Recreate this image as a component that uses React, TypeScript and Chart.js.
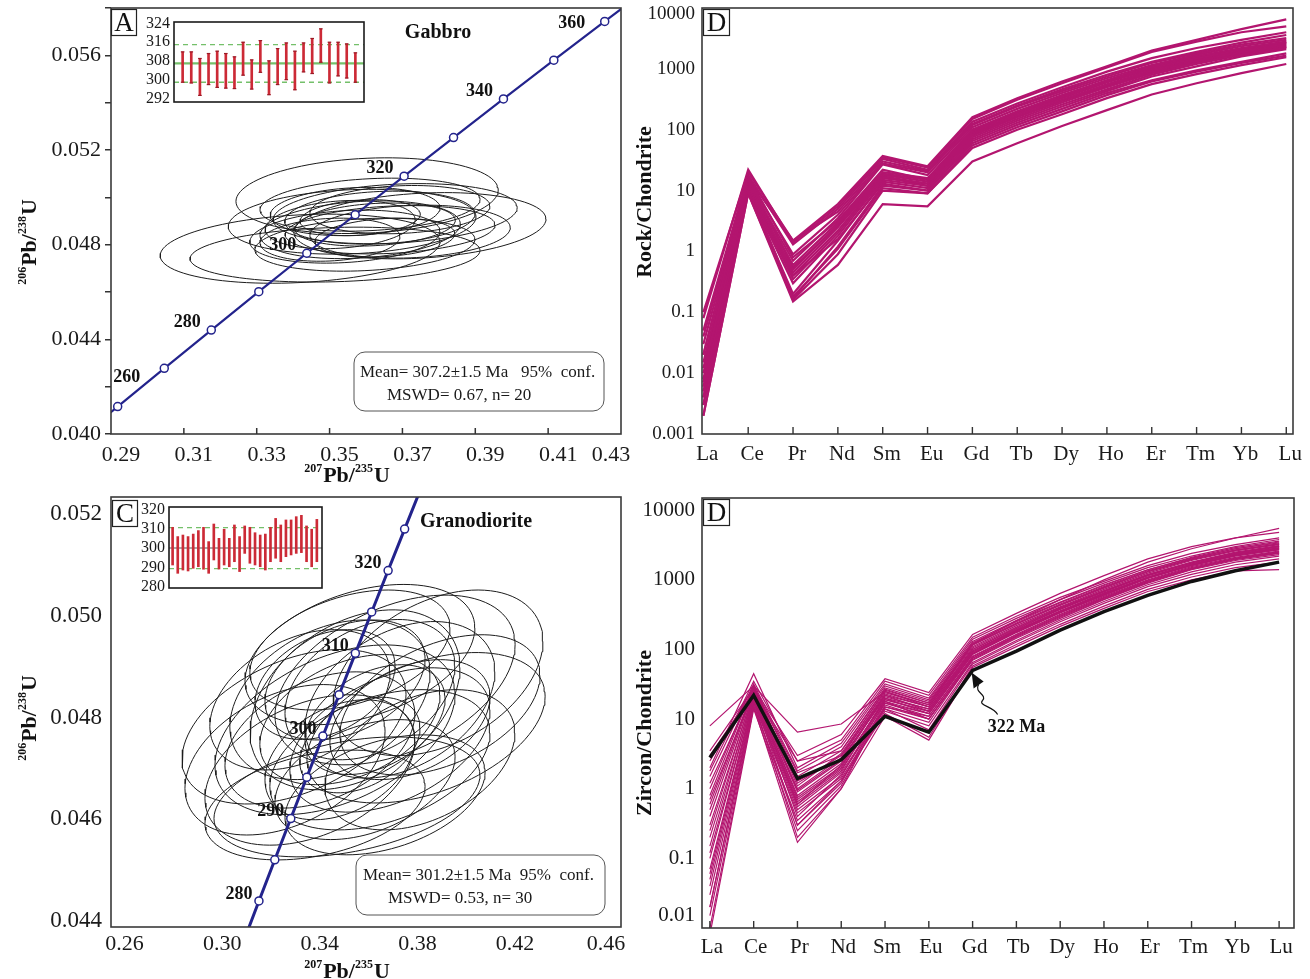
import React, { useEffect, useRef } from 'react';
import { Chart, registerables } from 'chart.js';

Chart.register(...registerables);

const SERIF = "'Liberation Serif', 'Times New Roman', Times, serif";
const NAVY = '#23238c';
const MAGENTA = '#b3156f';
const RED = '#cc2a36';
const GREEN = '#74c06a';
const FRAME = '#3a3a3a';

// ---------------- Panel A (Gabbro) ----------------
const concAgesA = [250, 260, 270, 280, 290, 300, 310, 320, 330, 340, 350, 360, 370];
const concA_207 = [0.27917, 0.29183, 0.30462, 0.31753, 0.33057, 0.34374, 0.35703, 0.37046, 0.38403, 0.39773, 0.41156, 0.42553, 0.43964];
const concA_206 = [0.039543, 0.041157, 0.042773, 0.044392, 0.046014, 0.047637, 0.049264, 0.050893, 0.052524, 0.054158, 0.055795, 0.057433, 0.059075];
const concLabelsA = [260, 280, 300, 320, 340, 360];
const ellA_x = [0.3603, 0.3419, 0.3515, 0.3748, 0.3680, 0.3562, 0.3611, 0.3584, 0.3638, 0.3542, 0.3666, 0.3570, 0.3625, 0.3529, 0.3693, 0.3597, 0.3501, 0.3652, 0.3584, 0.3721];
const ellA_y = [0.05007, 0.04783, 0.04758, 0.04880, 0.04931, 0.04897, 0.04969, 0.04863, 0.04914, 0.04834, 0.04863, 0.04940, 0.04885, 0.04885, 0.04948, 0.04800, 0.04821, 0.04830, 0.04914, 0.04855];
const ellA_sx = [0.0360, 0.0384, 0.0398, 0.0346, 0.0335, 0.0340, 0.0302, 0.0275, 0.0261, 0.0261, 0.0288, 0.0233, 0.0220, 0.0206, 0.0247, 0.0302, 0.0192, 0.0192, 0.0165, 0.0275];
const ellA_sy = [0.00160, 0.00146, 0.00116, 0.00140, 0.00127, 0.00137, 0.00112, 0.00122, 0.00112, 0.00112, 0.00102, 0.00102, 0.00091, 0.00102, 0.00102, 0.00112, 0.00091, 0.00082, 0.00076, 0.00112];
const ellA_rho = [0.15, 0.20, 0.15, 0.20, 0.20, 0.15, 0.20, 0.20, 0.15, 0.20, 0.20, 0.15, 0.20, 0.20, 0.15, 0.20, 0.15, 0.20, 0.20, 0.15];
const xTicksA = [0.29, 0.31, 0.33, 0.35, 0.37, 0.39, 0.41, 0.43];
const statsA = ['Mean= 307.2\u00b11.5 Ma   95%  conf.', 'MSWD= 0.67, n= 20'];

// inset A (weighted mean plot)
const insetA_lo = [299.0, 298.7, 293.4, 298.0, 296.8, 296.5, 296.3, 302.0, 296.1, 303.2, 293.7, 298.0, 300.1, 295.8, 303.4, 302.7, 307.5, 298.7, 301.7, 300.8, 299.0];
const insetA_hi = [311.9, 311.9, 309.1, 311.2, 312.2, 311.2, 309.8, 316.0, 308.5, 316.7, 308.1, 313.3, 315.7, 312.2, 315.7, 317.6, 321.7, 316.0, 316.0, 315.3, 311.5];
const insetA_mean = 307.0;
const insetA_band = [299.0, 315.0];
const insetA_ticks = [292, 300, 308, 316, 324];

// ---------------- Panel C (Granodiorite) ----------------
const concAgesC = [275, 280, 285, 290, 295, 300, 305, 310, 315, 320, 325, 330];
const concC_207 = [0.31106, 0.31753, 0.32403, 0.33057, 0.33714, 0.34374, 0.35037, 0.35703, 0.36373, 0.37046, 0.37723, 0.38403];
const concC_206 = [0.043573, 0.044392, 0.045202, 0.046014, 0.046825, 0.047637, 0.048450, 0.049264, 0.050078, 0.050893, 0.051708, 0.052524];
const concLabelsC = [280, 290, 300, 310, 320];
const ellC_x = [0.3909, 0.3319, 0.3536, 0.3860, 0.3589, 0.3466, 0.3671, 0.3384, 0.3753, 0.3548, 0.3630, 0.3425, 0.3712, 0.3528, 0.3610, 0.3343, 0.3835, 0.3507, 0.3651, 0.3487, 0.3733, 0.3569, 0.3282, 0.3794, 0.3589, 0.3446, 0.3692, 0.3405, 0.3917, 0.3548];
const ellC_y = [0.04888, 0.04782, 0.04644, 0.04780, 0.04924, 0.04835, 0.04717, 0.04697, 0.04835, 0.04796, 0.04855, 0.04756, 0.04756, 0.04874, 0.04678, 0.04835, 0.04717, 0.04717, 0.04796, 0.04776, 0.04874, 0.04835, 0.04717, 0.04796, 0.04746, 0.04865, 0.04648, 0.04628, 0.04825, 0.04933];
const ellC_sx = [0.0430, 0.0459, 0.0545, 0.0488, 0.0471, 0.0410, 0.0451, 0.0430, 0.0389, 0.0369, 0.0348, 0.0389, 0.0410, 0.0328, 0.0369, 0.0369, 0.0389, 0.0307, 0.0287, 0.0492, 0.0492, 0.0430, 0.0410, 0.0328, 0.0246, 0.0287, 0.0410, 0.0451, 0.0410, 0.0410];
const ellC_sy = [0.00163, 0.00152, 0.00118, 0.00148, 0.00138, 0.00157, 0.00138, 0.00148, 0.00154, 0.00128, 0.00138, 0.00134, 0.00142, 0.00118, 0.00118, 0.00138, 0.00138, 0.00118, 0.00108, 0.00167, 0.00167, 0.00177, 0.00148, 0.00118, 0.00094, 0.00108, 0.00118, 0.00108, 0.00138, 0.00118];
const ellC_rho = [0.38, 0.42, 0.36, 0.42, 0.38, 0.34, 0.38, 0.38, 0.36, 0.38, 0.34, 0.38, 0.42, 0.36, 0.38, 0.38, 0.38, 0.34, 0.38, 0.42, 0.42, 0.36, 0.38, 0.38, 0.36, 0.34, 0.38, 0.34, 0.42, 0.38];
const xTicksC = [0.26, 0.30, 0.34, 0.38, 0.42, 0.46];
const statsC = ['Mean= 301.2\u00b11.5 Ma  95%  conf.', 'MSWD= 0.53, n= 30'];

// inset C
const insetC_lo = [291.2, 286.9, 288.6, 288.1, 289.5, 290.3, 289.0, 286.9, 293.8, 289.1, 291.2, 290.3, 292.9, 287.8, 297.2, 292.1, 291.2, 290.3, 288.6, 292.9, 294.7, 292.9, 295.5, 296.4, 297.2, 297.6, 292.9, 290.3, 292.9];
const insetC_hi = [310.7, 305.9, 306.7, 305.9, 307.2, 309.0, 310.7, 303.3, 312.4, 305.0, 309.7, 305.0, 311.9, 305.9, 311.4, 310.7, 307.9, 306.7, 307.2, 310.7, 315.3, 311.9, 314.5, 314.5, 316.2, 316.9, 311.4, 309.7, 314.8];
const insetC_mean = 300.0;
const insetC_band = [289.3, 310.5];
const insetC_ticks = [280, 290, 300, 310, 320];

// ---------------- REE panels ----------------
const REE = ['La', 'Ce', 'Pr', 'Nd', 'Sm', 'Eu', 'Gd', 'Tb', 'Dy', 'Ho', 'Er', 'Tm', 'Yb', 'Lu'];
const reeTicksTop = [0.001, 0.01, 0.1, 1, 10, 100, 1000, 10000];
const reeTicksBottom = [0.01, 0.1, 1, 10, 100, 1000, 10000];

const rockLines = [
  [0.10, 20, 1.5, 6.0, 37, 25, 160, 330, 620, 1100, 2000, 3000, 4500, 6500],
  [0.08, 22, 1.4, 5.5, 35, 24, 150, 310, 580, 1050, 1900, 2800, 4000, 5000],
  [0.05, 18, 1.3, 5.0, 33, 22, 135, 270, 500, 900, 1500, 2200, 3000, 4000],
  [0.04, 16, 1.5, 4.5, 30, 21, 125, 250, 460, 800, 1300, 1900, 2700, 3600],
  [0.03, 15, 0.9, 4.0, 28, 20, 120, 240, 430, 750, 1250, 1800, 2500, 3200],
  [0.02, 14, 0.7, 3.5, 27, 18, 110, 220, 400, 700, 1150, 1700, 2350, 3000],
  [0.015, 13, 0.6, 3.0, 20, 16, 100, 200, 370, 650, 1100, 1600, 2200, 2800],
  [0.01, 12, 0.5, 2.8, 19, 15, 95, 190, 350, 620, 1050, 1500, 2100, 2700],
  [0.008, 12, 0.45, 2.5, 18, 14, 90, 180, 330, 600, 1000, 1450, 2000, 2600],
  [0.006, 11, 0.4, 2.2, 17, 13, 85, 170, 310, 560, 950, 1400, 1900, 2500],
  [0.005, 11, 0.35, 2.0, 16, 13, 80, 160, 300, 540, 900, 1350, 1850, 2400],
  [0.004, 10, 0.3, 1.8, 15, 12, 75, 150, 280, 500, 850, 1250, 1750, 2300],
  [0.003, 10, 0.2, 1.5, 14, 11, 70, 140, 260, 460, 800, 1200, 1700, 2200],
  [0.002, 9, 0.17, 1.2, 12, 10, 65, 130, 240, 430, 750, 1100, 1600, 2100],
  [0.02, 17, 0.8, 3.2, 22, 15, 100, 195, 360, 640, 1080, 1550, 2150, 2750],
  [0.012, 15, 0.55, 2.6, 17, 12, 85, 165, 300, 520, 880, 1300, 1800, 2300],
  [0.007, 12, 0.4, 1.6, 13, 10, 60, 120, 220, 400, 650, 950, 1300, 1800],
  [0.004, 11, 0.18, 1.1, 11, 9, 55, 110, 200, 370, 620, 900, 1250, 1650],
  [0.003, 10, 0.16, 0.9, 10, 9, 50, 100, 180, 330, 560, 820, 1150, 1550],
  [0.002, 9, 0.15, 0.6, 6, 5.5, 30, 60, 115, 210, 380, 580, 850, 1200],
];

const zircon322Ma = [2.8, 22, 1.4, 2.6, 11, 6.5, 50, 95, 190, 350, 600, 950, 1350, 1800];
const zirconLines = [
  [8, 30, 6.5, 8.5, 25, 15, 120, 260, 520, 1000, 1800, 2800, 4000, 5500],
  [3.5, 28, 3.0, 6.0, 38, 24, 165, 330, 640, 1150, 2000, 3000, 4000, 4800],
  [3.0, 25, 2.5, 5.0, 35, 22, 150, 300, 560, 950, 1600, 2400, 3200, 4000],
  [2.0, 45, 2.0, 4.5, 32, 20, 140, 280, 520, 900, 1500, 2200, 3000, 3800],
  [1.5, 32, 1.8, 4.0, 30, 19, 130, 260, 480, 850, 1400, 2100, 2900, 3600],
  [1.0, 30, 1.5, 3.5, 28, 18, 120, 240, 450, 800, 1350, 2000, 2800, 3400],
  [0.6, 28, 1.2, 3.0, 26, 17, 115, 230, 430, 760, 1300, 1950, 2700, 3300],
  [0.4, 26, 1.0, 2.8, 24, 16, 110, 220, 410, 730, 1250, 1900, 2600, 3200],
  [0.25, 25, 0.9, 2.5, 23, 15, 105, 210, 400, 700, 1200, 1800, 2500, 3100],
  [0.15, 24, 0.8, 2.3, 22, 15, 100, 200, 380, 680, 1150, 1750, 2400, 3000],
  [0.1, 22, 0.7, 2.0, 20, 14, 95, 190, 360, 650, 1100, 1700, 2350, 2900],
  [0.06, 20, 0.6, 1.8, 19, 13, 90, 185, 350, 630, 1080, 1650, 2300, 2800],
  [0.04, 18, 0.5, 1.5, 18, 12, 85, 175, 335, 600, 1050, 1600, 2200, 2700],
  [0.02, 16, 0.3, 1.2, 17, 11, 80, 165, 320, 580, 1000, 1550, 2100, 2600],
  [0.01, 15, 0.17, 1.0, 16, 10, 75, 155, 300, 550, 950, 1450, 2000, 2500],
  [0.008, 14, 0.25, 1.1, 15, 10, 70, 145, 280, 520, 900, 1400, 1900, 2300],
  [1.8, 35, 2.5, 3.5, 27, 17, 125, 250, 470, 830, 1400, 2050, 2800, 3500],
  [0.8, 30, 1.1, 3.2, 25, 16, 118, 235, 440, 780, 1320, 1950, 2650, 3300],
  [0.5, 27, 0.95, 2.6, 21, 14, 100, 205, 390, 690, 1180, 1780, 2450, 3050],
  [0.3, 24, 0.75, 2.1, 19, 13, 92, 188, 355, 640, 1100, 1680, 2300, 2850],
  [0.12, 21, 0.65, 1.9, 17, 12, 86, 178, 340, 610, 1060, 1620, 2250, 2750],
  [0.05, 19, 0.55, 1.7, 15, 11, 78, 160, 310, 560, 980, 1500, 2050, 2550],
  [0.03, 17, 0.45, 1.4, 14, 9, 72, 150, 290, 530, 920, 1420, 1950, 2400],
  [0.015, 15, 0.35, 1.3, 13, 8, 65, 135, 265, 490, 850, 1300, 1800, 2200],
  [2.5, 29, 1.7, 3.0, 22, 13, 95, 195, 375, 670, 1150, 1750, 2400, 3000],
  [1.2, 27, 1.3, 2.7, 20, 12, 88, 180, 345, 620, 1070, 1650, 2250, 2800],
  [0.7, 25, 0.6, 2.2, 18, 10, 75, 155, 300, 545, 950, 1450, 2000, 2450],
  [0.2, 22, 0.4, 1.6, 14, 7, 62, 128, 250, 460, 800, 1200, 1650, 2000],
  [0.07, 20, 0.3, 1.3, 12, 5.5, 58, 118, 230, 420, 730, 1100, 1500, 1800],
  [0.02, 18, 0.2, 1.0, 11, 5, 55, 110, 215, 390, 680, 1000, 1350, 1400],
];

// ---------------- helpers ----------------
type Pt = { x: number; y: number };

function ellipse(cx: number, cy: number, sx: number, sy: number, rho: number): Pt[] {
  const k = Math.sqrt(1 - rho * rho);
  const pts: Pt[] = [];
  for (let i = 0; i <= 96; i++) {
    const t = (i / 96) * Math.PI * 2;
    pts.push({ x: cx + sx * Math.cos(t), y: cy + sy * (rho * Math.cos(t) + k * Math.sin(t)) });
  }
  return pts;
}

function fixBox(size: { width?: number; height?: number }) {
  return (s: any) => {
    if (size.width !== undefined) s.width = size.width;
    if (size.height !== undefined) s.height = size.height;
    s.paddingLeft = 0;
    s.paddingRight = 0;
    s.paddingTop = 0;
    s.paddingBottom = 0;
  };
}

function supText(ctx: CanvasRenderingContext2D, parts: Array<[string, boolean]>, x: number, y: number, rotate: boolean, big: number, small: number) {
  ctx.save();
  ctx.translate(x, y);
  if (rotate) ctx.rotate(-Math.PI / 2);
  const fb = `bold ${big}px ${SERIF}`;
  const fs = `bold ${small}px ${SERIF}`;
  let total = 0;
  for (const [t, sup] of parts) {
    ctx.font = sup ? fs : fb;
    total += ctx.measureText(t).width + (sup ? 1 : 0);
  }
  let cx = -total / 2;
  ctx.fillStyle = '#111';
  ctx.textAlign = 'left';
  ctx.textBaseline = 'alphabetic';
  for (const [t, sup] of parts) {
    ctx.font = sup ? fs : fb;
    ctx.fillText(t, cx, sup ? big * 0.35 - big * 0.42 : big * 0.35);
    cx += ctx.measureText(t).width + (sup ? 1 : 0);
  }
  ctx.restore();
}

function letterBox(ctx: CanvasRenderingContext2D, x: number, y: number, w: number, h: number, letter: string, size: number) {
  ctx.save();
  ctx.fillStyle = '#fff';
  ctx.fillRect(x, y, w, h);
  ctx.strokeStyle = '#222';
  ctx.lineWidth = 1.2;
  ctx.strokeRect(x + 0.5, y + 0.5, w, h);
  ctx.fillStyle = '#111';
  ctx.font = `${size}px ${SERIF}`;
  ctx.textAlign = 'center';
  ctx.textBaseline = 'middle';
  ctx.fillText(letter, x + w / 2 + 0.5, y + h / 2 + 1.5);
  ctx.restore();
}

function drawFrame(ctx: CanvasRenderingContext2D, ca: any) {
  ctx.save();
  ctx.strokeStyle = FRAME;
  ctx.lineWidth = 1.6;
  ctx.strokeRect(ca.left, ca.top, ca.right - ca.left, ca.bottom - ca.top);
  ctx.restore();
}

// ---------------- chart builders ----------------
function makeConcordia(canvas: HTMLCanvasElement, o: any) {
  const W = canvas.width;
  const H = canvas.height;
  const ds: any[] = [];
  ds.push({
    data: o.ages.map((_: number, i: number) => ({ x: o.x207[i], y: o.y206[i] })),
    showLine: true,
    borderColor: NAVY,
    borderWidth: o.lw,
    pointRadius: 4,
    pointBackgroundColor: '#fff',
    pointBorderColor: NAVY,
    pointBorderWidth: 1.5,
    clip: 0,
    tension: 0,
  });
  for (let i = 0; i < o.ex.length; i++) {
    ds.push({
      data: ellipse(o.ex[i], o.ey[i], o.esx[i], o.esy[i], o.erho[i]),
      showLine: true,
      borderColor: '#1c1c1c',
      borderWidth: 1,
      pointRadius: 0,
      clip: 0,
      tension: 0,
    });
  }
  return new Chart(canvas, {
    type: 'scatter',
    data: { datasets: ds },
    options: {
      animation: false,
      responsive: false,
      devicePixelRatio: 1,
      events: [],
      layout: { padding: { left: 0, top: o.area.top, right: W - o.area.right, bottom: 0 } },
      plugins: { legend: { display: false }, tooltip: { enabled: false } },
      scales: {
        x: {
          type: 'linear', min: o.xMin, max: o.xMax,
          grid: { display: false, drawTicks: false }, border: { display: false },
          ticks: { display: false },
          afterFit: fixBox({ height: H - o.area.bottom }),
        },
        y: {
          type: 'linear', min: o.yMin, max: o.yMax,
          grid: { display: o.yTicks, drawOnChartArea: false, drawTicks: o.yTicks, tickLength: 6, color: '#333', lineWidth: 1.5 },
          border: { display: false },
          ticks: {
            stepSize: 0.002, includeBounds: false, autoSkip: false, padding: o.yPad, color: '#1a1a1a',
            font: { family: SERIF, size: o.yFont },
            callback: (v: number) => (Math.round(v * 1000) % o.yLabelEvery === 0 ? v.toFixed(3) : ''),
          },
          afterFit: fixBox({ width: o.area.left }),
        },
      },
    } as any,
    plugins: [{
      id: 'deco',
      afterDraw: (chart: any) => {
        const ctx: CanvasRenderingContext2D = chart.ctx;
        const ca = chart.chartArea;
        const xs = chart.scales.x;
        const ys = chart.scales.y;
        drawFrame(ctx, ca);
        ctx.save();
        if (o.xInTicks) {
          ctx.strokeStyle = '#333';
          ctx.lineWidth = 1.5;
          for (const v of o.xTicks) {
            const px = xs.getPixelForValue(v);
            if (px <= ca.left + 3 || px >= ca.right - 3) continue;
            ctx.beginPath();
            ctx.moveTo(px, ca.bottom);
            ctx.lineTo(px, ca.bottom - 6);
            ctx.stroke();
          }
        }
        ctx.fillStyle = '#1a1a1a';
        ctx.font = `${o.xFont}px ${SERIF}`;
        ctx.textAlign = 'center';
        ctx.textBaseline = 'middle';
        for (const v of o.xTicks) {
          let px = xs.getPixelForValue(v) + o.xLabOff;
          px = Math.min(px, ca.right - o.xLabClamp);
          ctx.fillText(v.toFixed(2), px, o.xLabY);
        }
        supText(ctx, [['207', true], ['Pb/', false], ['235', true], ['U', false]], o.xTitleX, o.xTitleY, false, 22, 12);
        supText(ctx, [['206', true], ['Pb/', false], ['238', true], ['U', false]], 28, o.yTitleY, true, 22, 12);
        ctx.fillStyle = '#111';
        ctx.font = `bold 18px ${SERIF}`;
        for (const a of o.labelAges) {
          const i = o.ages.indexOf(a);
          const px = xs.getPixelForValue(o.x207[i]);
          const py = ys.getPixelForValue(o.y206[i]);
          const off = o.labOff[a] || o.labOffDefault;
          ctx.fillText(String(a), px + off[0], py + off[1]);
        }
        ctx.font = `bold 20px ${SERIF}`;
        ctx.fillText(o.title, o.titlePos[0], o.titlePos[1]);
        const [bx, by, bw, bh] = o.box;
        ctx.beginPath();
        (ctx as any).roundRect(bx, by, bw, bh, 11);
        ctx.fillStyle = '#fff';
        ctx.fill();
        ctx.strokeStyle = '#555';
        ctx.lineWidth = 1;
        ctx.stroke();
        ctx.fillStyle = '#1a1a1a';
        ctx.font = `17px ${SERIF}`;
        ctx.textAlign = 'left';
        ctx.fillText(o.stats[0], bx + o.statsX[0], by + 21);
        ctx.fillText(o.stats[1], bx + o.statsX[1], by + 44);
        ctx.restore();
        letterBox(ctx, o.letterPos[0], o.letterPos[1], 25, 26, o.letter, 27);
      },
    }],
  });
}

function makeInset(canvas: HTMLCanvasElement, o: any) {
  const W = canvas.width;
  const H = canvas.height;
  const hline = (y: number) => [{ x: o.xMin, y }, { x: o.xMax, y }];
  return new Chart(canvas, {
    type: 'bar',
    data: {
      datasets: [
        { type: 'bar', data: o.lo.map((lo: number, i: number) => ({ x: i + 1, y: [lo, o.hi[i]] })), backgroundColor: RED, barThickness: 2, borderWidth: 0 },
        { type: 'line', data: hline(o.mean), borderColor: o.meanColor, borderWidth: o.meanW, pointRadius: 0 },
        { type: 'line', data: hline(o.band[0]), borderColor: GREEN, borderWidth: 1.3, borderDash: [5, 4], pointRadius: 0 },
        { type: 'line', data: hline(o.band[1]), borderColor: GREEN, borderWidth: 1.3, borderDash: [5, 4], pointRadius: 0 },
      ],
    },
    options: {
      animation: false,
      responsive: false,
      devicePixelRatio: 1,
      events: [],
      layout: { padding: { left: 0, top: o.area.top, right: W - o.area.right, bottom: 0 } },
      plugins: { legend: { display: false }, tooltip: { enabled: false } },
      scales: {
        x: {
          type: 'linear', min: o.xMin, max: o.xMax, offset: false,
          grid: { display: false, drawTicks: false, offset: false }, border: { display: false },
          ticks: { display: false },
          afterFit: fixBox({ height: H - o.area.bottom }),
        },
        y: {
          type: 'linear', min: o.yMin, max: o.yMax,
          grid: { display: false, drawTicks: false }, border: { display: false },
          afterBuildTicks: (s: any) => { s.ticks = o.yTicks.map((v: number) => ({ value: v })); },
          ticks: { padding: 4, autoSkip: false, color: '#1a1a1a', font: { family: SERIF, size: 16 } },
          afterFit: fixBox({ width: o.area.left }),
        },
      },
    } as any,
    plugins: [{
      id: 'insetDeco',
      beforeDraw: (chart: any) => {
        const ca = chart.chartArea;
        const ctx = chart.ctx;
        ctx.save();
        ctx.fillStyle = '#fff';
        ctx.fillRect(ca.left, ca.top, ca.right - ca.left, ca.bottom - ca.top);
        ctx.restore();
      },
      afterDraw: (chart: any) => {
        const ca = chart.chartArea;
        const ctx: CanvasRenderingContext2D = chart.ctx;
        const xs = chart.scales.x;
        const ys = chart.scales.y;
        ctx.save();
        if (o.caps) {
          ctx.strokeStyle = '#9a1a26';
          ctx.lineWidth = 1.2;
          o.lo.forEach((lo: number, i: number) => {
            const px = xs.getPixelForValue(i + 1);
            for (const v of [lo, o.hi[i]]) {
              const py = ys.getPixelForValue(v);
              ctx.beginPath();
              ctx.moveTo(px - 1.8, py);
              ctx.lineTo(px + 1.8, py);
              ctx.stroke();
            }
          });
        }
        ctx.strokeStyle = '#1a1a1a';
        ctx.lineWidth = 1.6;
        ctx.strokeRect(ca.left, ca.top, ca.right - ca.left, ca.bottom - ca.top);
        ctx.restore();
      },
    }],
  });
}

function makeREE(canvas: HTMLCanvasElement, o: any) {
  const W = canvas.width;
  const H = canvas.height;
  const ds: any[] = o.series.map((s: any) => ({
    data: s.values.map((v: number, i: number) => ({ x: i, y: v })),
    showLine: true,
    borderColor: s.color,
    borderWidth: s.width,
    pointRadius: 0,
    tension: 0,
    clip: 0,
  }));
  return new Chart(canvas, {
    type: 'scatter',
    data: { datasets: ds },
    options: {
      animation: false,
      responsive: false,
      devicePixelRatio: 1,
      events: [],
      layout: { padding: { left: 0, top: o.area.top, right: W - o.area.right, bottom: 0 } },
      plugins: { legend: { display: false }, tooltip: { enabled: false } },
      scales: {
        x: {
          type: 'linear', min: o.xMin, max: o.xMax,
          grid: { display: false, drawTicks: false }, border: { display: false },
          afterBuildTicks: (s: any) => { s.ticks = REE.map((_, i) => ({ value: i })); },
          ticks: {
            autoSkip: false, maxRotation: 0, padding: o.xPad, labelOffset: o.xLabOff, color: '#1a1a1a',
            font: { family: SERIF, size: 21 },
            callback: (v: number) => REE[Math.round(v)] ?? '',
          },
          afterFit: fixBox({ height: H - o.area.bottom }),
        },
        y: {
          type: 'logarithmic', min: o.yMin, max: o.yMax,
          grid: { display: false, drawTicks: false }, border: { display: false },
          afterBuildTicks: (s: any) => { s.ticks = o.yTicks.map((v: number) => ({ value: v })); },
          ticks: {
            autoSkip: false, padding: 7, color: '#1a1a1a',
            font: { family: SERIF, size: o.yFont },
            callback: (v: number) => (v === o.nudge.value ? '' : String(v)),
          },
          afterFit: fixBox({ width: o.area.left }),
        },
      },
    } as any,
    plugins: [{
      id: 'reeDeco',
      afterDraw: (chart: any) => {
        const ctx: CanvasRenderingContext2D = chart.ctx;
        const ca = chart.chartArea;
        const xs = chart.scales.x;
        const ys = chart.scales.y;
        drawFrame(ctx, ca);
        ctx.save();
        // nudged y tick label (edge label kept inside, as in the source figure)
        ctx.fillStyle = '#1a1a1a';
        ctx.font = `${o.yFont}px ${SERIF}`;
        ctx.textAlign = 'right';
        ctx.textBaseline = 'middle';
        ctx.fillText(String(o.nudge.value), ca.left - 7, ys.getPixelForValue(o.nudge.value) + o.nudge.dy);
        ctx.strokeStyle = '#333';
        ctx.lineWidth = 1.4;
        REE.forEach((_, i) => {
          const px = xs.getPixelForValue(i);
          if (px <= ca.left + 3 || px >= ca.right - 3) return;
          ctx.beginPath();
          ctx.moveTo(px, ca.bottom);
          ctx.lineTo(px, ca.bottom - 7);
          ctx.stroke();
        });
        ctx.fillStyle = '#111';
        ctx.font = `bold 22px ${SERIF}`;
        ctx.textAlign = 'center';
        ctx.textBaseline = 'middle';
        ctx.translate(o.yTitleX, o.yTitleY);
        ctx.rotate(-Math.PI / 2);
        ctx.fillText(o.yTitle, 0, 0);
        ctx.restore();
        if (o.annot) {
          const tx = xs.getPixelForValue(6);
          const ty = ys.getPixelForValue(o.annot[6]);
          const tip = { x: tx - 1, y: ty + 2 };
          ctx.save();
          ctx.fillStyle = '#111';
          ctx.beginPath();
          ctx.moveTo(tip.x, tip.y);
          ctx.lineTo(tip.x + 2, tip.y + 16);
          ctx.lineTo(tip.x + 12, tip.y + 9);
          ctx.closePath();
          ctx.fill();
          ctx.strokeStyle = '#111';
          ctx.lineWidth = 1.2;
          ctx.beginPath();
          ctx.moveTo(tip.x + 7, tip.y + 12);
          ctx.bezierCurveTo(tip.x + 2, tip.y + 20, tip.x + 16, tip.y + 22, tip.x + 11, tip.y + 28);
          ctx.bezierCurveTo(tip.x + 6, tip.y + 33, tip.x + 22, tip.y + 34, tip.x + 26, tip.y + 42);
          ctx.stroke();
          ctx.font = `bold 18px ${SERIF}`;
          ctx.textAlign = 'center';
          ctx.textBaseline = 'middle';
          ctx.fillText('322 Ma', tx + 44, ty + 57);
          ctx.restore();
        }
        letterBox(ctx, o.letterPos[0], o.letterPos[1], 26, 26, 'D', 27);
      },
    }],
  });
}

const BOXES = {
  A: { left: 0, top: 0, w: 640, h: 485 },
  C: { left: 0, top: 490, w: 640, h: 489 },
  D1: { left: 630, top: 0, w: 680, h: 485 },
  D2: { left: 630, top: 490, w: 680, h: 489 },
  iA: { left: 130, top: 12, w: 240, h: 96 },
  iC: { left: 126, top: 500, w: 200, h: 92 },
};

export default function App() {
  const rA = useRef<HTMLCanvasElement>(null);
  const rC = useRef<HTMLCanvasElement>(null);
  const rD1 = useRef<HTMLCanvasElement>(null);
  const rD2 = useRef<HTMLCanvasElement>(null);
  const riA = useRef<HTMLCanvasElement>(null);
  const riC = useRef<HTMLCanvasElement>(null);

  useEffect(() => {
    const charts: Chart[] = [];
    charts.push(makeConcordia(rA.current!, {
      area: { left: 111, top: 8, right: 621, bottom: 434 },
      xMin: 0.29, xMax: 0.43, yMin: 0.040, yMax: 0.058,
      ages: concAgesA, x207: concA_207, y206: concA_206, labelAges: concLabelsA,
      ex: ellA_x, ey: ellA_y, esx: ellA_sx, esy: ellA_sy, erho: ellA_rho,
      lw: 2.2, yTicks: true, yPad: 4, yFont: 22, yLabelEvery: 4,
      xTicks: xTicksA, xInTicks: true, xFont: 22, xLabOff: 10, xLabClamp: 10, xLabY: 455,
      xTitleX: 347, xTitleY: 474, yTitleY: 242,
      labOff: { 260: [9, -29], 360: [-33, 2] }, labOffDefault: [-24, -8],
      title: 'Gabbro', titlePos: [438, 33],
      box: [354, 352, 250, 59], stats: statsA, statsX: [6, 33],
      letter: 'A', letterPos: [111, 9],
    }));
    charts.push(makeConcordia(rC.current!, {
      area: { left: 111, top: 7, right: 621, bottom: 437 },
      xMin: 0.2569, xMax: 0.4659, yMin: 0.04388, yMax: 0.05234,
      ages: concAgesC, x207: concC_207, y206: concC_206, labelAges: concLabelsC,
      ex: ellC_x, ey: ellC_y, esx: ellC_sx, esy: ellC_sy, erho: ellC_rho,
      lw: 3, yTicks: false, yPad: 9, yFont: 23, yLabelEvery: 2,
      xTicks: xTicksC, xInTicks: false, xFont: 22, xLabOff: 6, xLabClamp: 15, xLabY: 454,
      xTitleX: 347, xTitleY: 480, yTitleY: 228,
      labOff: {}, labOffDefault: [-20, -7],
      title: 'Granodiorite', titlePos: [476, 32],
      box: [356, 365, 249, 60], stats: statsC, statsX: [7, 32],
      letter: 'C', letterPos: [112, 10],
    }));
    charts.push(makeREE(rD1.current!, {
      area: { left: 72, top: 8, right: 663, bottom: 434 },
      xMin: -0.03, xMax: 13.15, yMin: 0.001, yMax: 10000, yTicks: reeTicksTop, yFont: 19,
      xPad: 8, xLabOff: 4, nudge: { value: 10000, dy: 6 },
      series: rockLines.map((v) => ({ values: v, color: MAGENTA, width: 2.2 })),
      yTitle: 'Rock/Chondrite', yTitleX: 15, yTitleY: 202,
      letterPos: [73, 9],
    }));
    charts.push(makeREE(rD2.current!, {
      area: { left: 72, top: 8, right: 664, bottom: 438 },
      xMin: -0.18, xMax: 13.34, yMin: 0.01, yMax: 15000, yTicks: reeTicksBottom, yFont: 21,
      xPad: 7, xLabOff: 2, nudge: { value: 0.01, dy: -13 },
      series: [{ values: zircon322Ma, color: '#111', width: 3.5 }].concat(
        zirconLines.map((v) => ({ values: v, color: MAGENTA, width: 1.2 }))),
      yTitle: 'Zircon/Chondrite', yTitleX: 15, yTitleY: 243,
      annot: zircon322Ma,
      letterPos: [73, 9],
    }));
    charts.push(makeInset(riA.current!, {
      area: { left: 44, top: 10, right: 234, bottom: 90 },
      xMin: 0, xMax: 22, yMin: 290.6, yMax: 324.6, yTicks: insetA_ticks,
      lo: insetA_lo, hi: insetA_hi, mean: insetA_mean, band: insetA_band,
      meanColor: GREEN, meanW: 2.2, caps: true,
    }));
    charts.push(makeInset(riC.current!, {
      area: { left: 43, top: 7, right: 196, bottom: 88 },
      xMin: 0.3, xMax: 30, yMin: 279.3, yMax: 321.2, yTicks: insetC_ticks,
      lo: insetC_lo, hi: insetC_hi, mean: insetC_mean, band: insetC_band,
      meanColor: '#555', meanW: 1.2, caps: false,
    }));
    return () => charts.forEach((c) => c.destroy());
  }, []);

  const cv = (ref: any, b: any) => (
    <canvas ref={ref} width={b.w} height={b.h}
      style={{ position: 'absolute', left: b.left, top: b.top, width: b.w, height: b.h }} />
  );

  return (
    <div style={{ position: 'absolute', left: 0, top: 0, width: 1310, height: 979, background: '#fff', overflow: 'hidden' }}>
      {cv(rA, BOXES.A)}
      {cv(rC, BOXES.C)}
      {cv(rD1, BOXES.D1)}
      {cv(rD2, BOXES.D2)}
      {cv(riA, BOXES.iA)}
      {cv(riC, BOXES.iC)}
    </div>
  );
}
